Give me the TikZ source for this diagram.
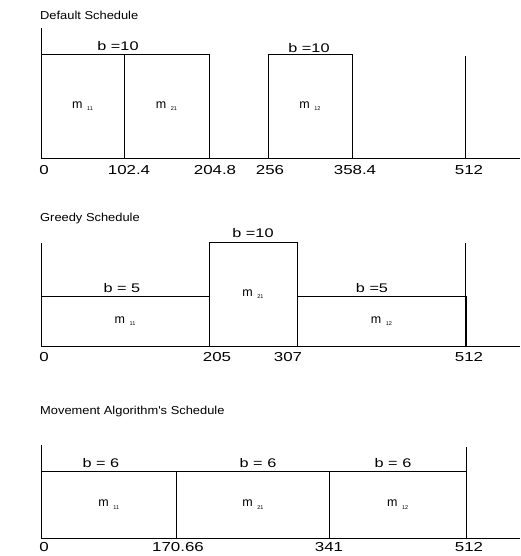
\documentclass[tikz,border=0pt]{standalone}
\usepackage{fontspec}
\setmainfont{Liberation Sans}
\newfontfamily\tickfont[FakeStretch=1.3]{Liberation Sans}
\newfontfamily\headfont[FakeStretch=1.12]{Liberation Sans}
\usetikzlibrary{positioning}
\newcommand{\msub}[1]{m\hspace{4.5pt}\raisebox{-2.5pt}{\fontsize{5.5}{6}\selectfont #1}}

\begin{document}
\begin{tikzpicture}[
  x=1pt, y=-1pt,
  slot/.style={draw, line width=0.7pt, fill=white, inner sep=0pt,
    font=\fontsize{12.5}{13}\selectfont},
  axis/.style={line width=0.8pt},
  bwidth/.style={font=\tickfont\fontsize{12.5}{13}\selectfont, inner sep=0pt},
  ticklabel/.style={font=\tickfont\fontsize{13}{14}\selectfont, inner sep=0pt},
  heading/.style={font=\headfont\fontsize{11.5}{12}\selectfont, anchor=west, inner sep=0pt}
]
\useasboundingbox (0,0) rectangle (520,556);

% default schedule
\node[heading] (h1) at (40,15) {Default Schedule};
\draw[axis] (41,28) -- (41,158) -- (520,158);
\node[slot, minimum width=83pt, minimum height=104pt] (d11) at (82.5,106) {\msub{11}};
\node[slot, minimum width=85pt, minimum height=104pt] (d21) at (166.5,106) {\msub{21}};
\node[slot, minimum width=84pt, minimum height=104pt] (d12) at (310,106) {\msub{12}};
\draw[axis] (465,56) -- (465,158);
\node[bwidth] (db1) at (118,46) {b =10};
\node[bwidth] (db2) at (309,48) {b =10};
\node[ticklabel] (dt0) at (44,170) {0};
\node[ticklabel] (dt1) at (129,170) {102.4};
\node[ticklabel] (dt2) at (215,170) {204.8};
\node[ticklabel] (dt3) at (270,170) {256};
\node[ticklabel] (dt4) at (355,170) {358.4};
\node[ticklabel] (dt5) at (469,170) {512};

% greedy schedule
\node[heading] (h2) at (40,219) {Greedy Schedule};
\draw[axis] (41,243) -- (41,346) -- (520,346);
\node[slot, minimum width=168pt, minimum height=50pt] (g11) at (125,321) {\msub{11}};
\node[slot, minimum width=169pt, minimum height=50pt] (g12) at (381.5,321) {\msub{12}};
\node[slot, minimum width=88pt, minimum height=104pt] (g21) at (253,294) {\msub{21}};
\draw[axis] (465,243) -- (465,346);
\node[bwidth] (gb1) at (122,288) {b = 5};
\node[bwidth] (gb2) at (253,233) {b =10};
\node[bwidth] (gb3) at (372,288) {b =5};
\node[ticklabel] (gt0) at (44,357) {0};
\node[ticklabel] (gt1) at (217,357) {205};
\node[ticklabel] (gt2) at (288,357) {307};
\node[ticklabel] (gt3) at (469,357) {512};

% movement algorithm's schedule
\node[heading] (h3) at (40,412) {Movement Algorithm's Schedule};
\draw[axis] (41,445) -- (41,538) -- (520,538);
\node[slot, minimum width=135.5pt, minimum height=67pt] (v11) at (108.75,504.5) {\msub{11}};
\node[slot, minimum width=153pt, minimum height=67pt] (v21) at (253,504.5) {\msub{21}};
\node[slot, minimum width=136.5pt, minimum height=67pt] (v12) at (397.75,504.5) {\msub{12}};
\draw[axis] (466,447) -- (466,538);
\node[bwidth] (vb1) at (101,463) {b = 6};
\node[bwidth] (vb2) at (258,463) {b = 6};
\node[bwidth] (vb3) at (393,463) {b = 6};
\node[ticklabel] (vt0) at (44,547) {0};
\node[ticklabel] (vt1) at (178,547) {170.66};
\node[ticklabel] (vt2) at (329,547) {341};
\node[ticklabel] (vt3) at (469,547) {512};
\end{tikzpicture}
\end{document}
